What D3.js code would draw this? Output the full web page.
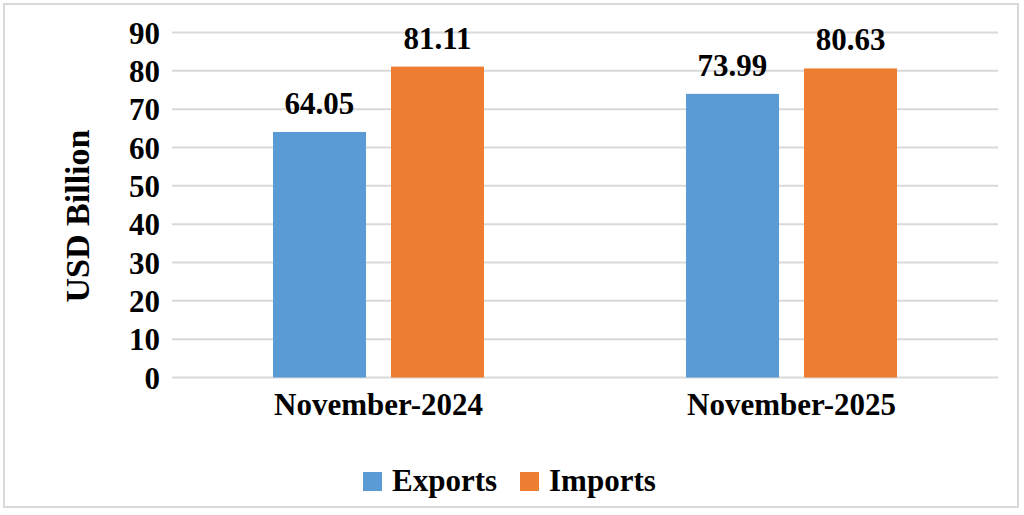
<!DOCTYPE html>
<html>
<head>
<meta charset="utf-8">
<script src="https://cdn.jsdelivr.net/npm/d3@7"></script>
<style>
  body { margin: 0; background: #fff; }
  text { font-family: "Liberation Serif", "Times New Roman", serif; font-weight: bold; fill: #000; }
</style>
</head>
<body>
<svg id="chart" width="1024" height="515"></svg>
<script>
// data
const categories = ["November-2024", "November-2025"];
const seriesNames = ["Exports", "Imports"];
const exportsVals = [64.05, 73.99];
const importsVals = [81.11, 80.63];
const yTicks = [0, 10, 20, 30, 40, 50, 60, 70, 80, 90];
const colors = ["#5B9BD5", "#ED7D31"];

const svg = d3.select("#chart");
const fontSize = 31;

// outer frame
svg.append("rect")
  .attr("x", 4).attr("y", 4)
  .attr("width", 1014).attr("height", 503)
  .attr("fill", "#fff")
  .attr("stroke", "#d9d9d9")
  .attr("stroke-width", 2);

const plot = { left: 172, right: 998, top: 32.5, bottom: 377.5 };
const groupWidth = 211;

const x0 = d3.scaleBand().domain(categories)
  .range([plot.left, plot.right]);
const x1 = d3.scaleBand().domain(seriesNames)
  .range([0, groupWidth]).paddingInner(0.212);
const y = d3.scaleLinear().domain([0, 90]).range([plot.bottom, plot.top]);

// gridlines
svg.append("g").selectAll("line")
  .data(yTicks)
  .enter().append("line")
  .attr("x1", plot.left).attr("x2", plot.right)
  .attr("y1", d => y(d)).attr("y2", d => y(d))
  .attr("stroke", "#d9d9d9")
  .attr("stroke-width", 2);

// y axis labels
const yAxis = d3.axisLeft(y).tickValues(yTicks).tickSize(0).tickPadding(12);
const yg = svg.append("g")
  .attr("transform", `translate(${plot.left},0)`)
  .call(yAxis);
yg.select(".domain").remove();
yg.selectAll("text")
  .attr("dy", "0.34em")
  .style("font-size", fontSize + "px")
  .style("font-family", "Liberation Serif, serif")
  .style("font-weight", "bold");

// y title
svg.append("text")
  .attr("transform", "translate(89,216) rotate(-90)")
  .attr("text-anchor", "middle")
  .style("font-size", "34px")
  .text("USD Billion");

// bars
const rows = categories.map((c, i) => ({ cat: c, vals: [exportsVals[i], importsVals[i]] }));
const groups = svg.append("g").selectAll("g")
  .data(rows)
  .enter().append("g")
  .attr("transform", d => `translate(${x0(d.cat) + (x0.bandwidth() - groupWidth) / 2},0)`);

groups.selectAll("rect")
  .data(d => d.vals.map((v, j) => ({ name: seriesNames[j], v: v, j: j })))
  .enter().append("rect")
  .attr("x", d => x1(d.name))
  .attr("y", d => y(d.v))
  .attr("width", x1.bandwidth())
  .attr("height", d => y(0) - y(d.v))
  .attr("fill", d => colors[d.j]);

groups.selectAll(".val")
  .data(d => d.vals.map((v, j) => ({ name: seriesNames[j], v: v })))
  .enter().append("text")
  .attr("class", "val")
  .attr("x", d => x1(d.name) + x1.bandwidth() / 2)
  .attr("y", d => y(d.v) - 18)
  .attr("text-anchor", "middle")
  .style("font-size", fontSize + "px")
  .text(d => d3.format(".2f")(d.v));

// category labels
svg.append("g").selectAll("text")
  .data(categories)
  .enter().append("text")
  .attr("x", d => x0(d) + x0.bandwidth() / 2)
  .attr("y", 415)
  .attr("text-anchor", "middle")
  .style("font-size", fontSize + "px")
  .text(d => d);

// legend
const legendX = [363, 520];
const legend = svg.append("g").selectAll("g")
  .data(seriesNames)
  .enter().append("g")
  .attr("transform", (d, i) => `translate(${legendX[i]},472)`);
legend.append("rect")
  .attr("width", 19).attr("height", 19)
  .attr("fill", (d, i) => colors[i]);
legend.append("text")
  .attr("x", 29).attr("y", 19)
  .style("font-size", fontSize + "px")
  .text(d => d);
</script>
</body>
</html>
